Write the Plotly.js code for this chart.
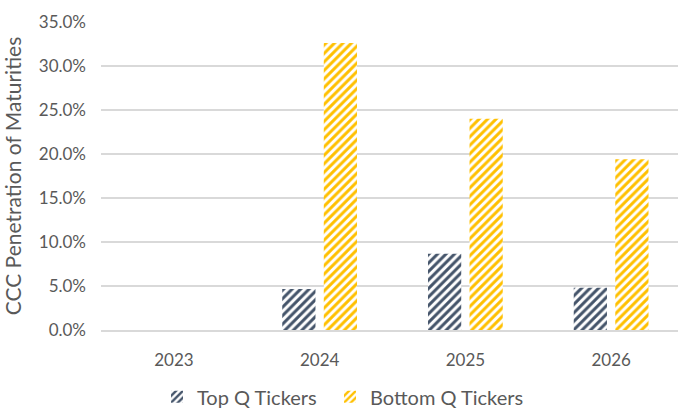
<!DOCTYPE html>
<html>
<head>
<meta charset="utf-8">
<script src="https://cdn.plot.ly/plotly-3.0.1.min.js"></script>
<style>
html,body{margin:0;padding:0;overflow:hidden;background:#fff;width:678px;height:409px;}
#chart{width:686px;height:409px;}
</style>
</head>
<body>
<div id="chart"></div>
<script>
const years = ['2023', '2024', '2025', '2026'];
const topQ = [0, 0.0466, 0.0866, 0.048];
const bottomQ = [0, 0.326, 0.240, 0.194];
const seriesNames = ['Top Q Tickers', 'Bottom Q Tickers'];
const seriesColors = ['#44546A', '#FFC000'];
const yTicks = [0, 0.05, 0.10, 0.15, 0.20, 0.25, 0.30, 0.35];

const textColor = '#595959';
const fontFamily = 'Lato, "Open Sans", sans-serif';

function barTrace(name, values, color, legendId) {
  return {
    type: 'bar',
    name: name,
    x: years,
    y: values,
    legend: legendId,
    marker: {
      color: '#ffffff',
      line: {width: 0},
      pattern: {shape: '/', fgcolor: color, bgcolor: '#ffffff', fgopacity: 1, size: 6, solidity: 0.5, fillmode: 'overlay'}
    },
    hoverinfo: 'skip'
  };
}

const data = [
  barTrace(seriesNames[0], topQ, seriesColors[0], 'legend'),
  barTrace(seriesNames[1], bottomQ, seriesColors[1], 'legend2')
];

function legendAt(px) {
  return {
    orientation: 'h',
    xref: 'container', x: px / 686, xanchor: 'left',
    yref: 'container', y: 0.03, yanchor: 'middle',
    font: {size: 20, color: textColor, family: fontFamily},
    itemwidth: 30
  };
}

const layout = {
  width: 686,
  height: 409,
  margin: {l: 101, r: 2, t: 22, b: 79, autoexpand: false},
  paper_bgcolor: '#ffffff',
  plot_bgcolor: '#ffffff',
  font: {family: fontFamily, color: textColor},
  barmode: 'group',
  bargap: 0.43,
  bargroupgap: 0.2,
  showlegend: true,
  legend: legendAt(157),
  legend2: legendAt(330),
  xaxis: {
    type: 'category',
    showgrid: false,
    showline: true,
    linecolor: '#d9d9d9',
    linewidth: 1.5,
    ticks: '',
    tickfont: {size: 17, color: textColor},
    ticklabelstandoff: 14,
    automargin: false,
    fixedrange: true
  },
  yaxis: {
    range: [0, 0.35],
    tickvals: yTicks,
    tickformat: '.1%',
    showgrid: true,
    gridcolor: '#d9d9d9',
    gridwidth: 1.5,
    zeroline: false,
    showline: false,
    ticks: '',
    tickfont: {size: 17, color: textColor},
    ticklabelstandoff: 14,
    title: {text: 'CCC Penetration of Maturities', font: {size: 21, color: textColor}, standoff: 12},
    automargin: false,
    fixedrange: true
  },
  hovermode: false
};

Plotly.newPlot('chart', data, layout, {displayModeBar: false, staticPlot: true});
</script>
</body>
</html>
